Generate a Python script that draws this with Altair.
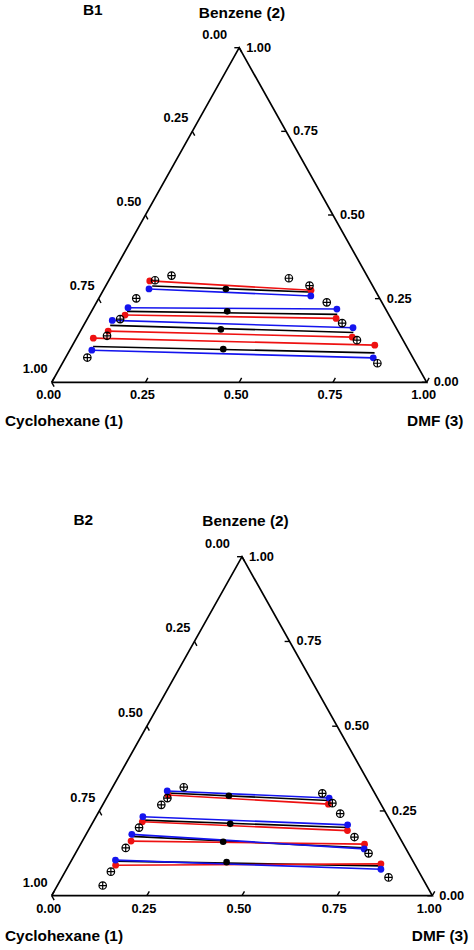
import altair as alt
import pandas as pd

# ---------------- B1 (mole fractions: benzene x2, DMF x3) ----------------
B1_BINODAL_BENZENE = [0.319, 0.305, 0.251, 0.189, 0.139, 0.074, 0.311, 0.289, 0.239, 0.177, 0.126, 0.057]
B1_BINODAL_DMF = [0.160, 0.123, 0.100, 0.088, 0.078, 0.058, 0.477, 0.543, 0.614, 0.686, 0.751, 0.840]

B1_EXP_RAF_BENZENE = [0.288, 0.212, 0.170, 0.107]
B1_EXP_RAF_DMF = [0.124, 0.095, 0.071, 0.057]
B1_EXP_EXT_BENZENE = [0.270, 0.203, 0.149, 0.088]
B1_EXP_EXT_DMF = [0.551, 0.660, 0.730, 0.817]

B1_NRTL_RAF_BENZENE = [0.303, 0.201, 0.153, 0.132]
B1_NRTL_RAF_DMF = [0.110, 0.095, 0.074, 0.045]
B1_NRTL_EXT_BENZENE = [0.275, 0.191, 0.135, 0.111]
B1_NRTL_EXT_DMF = [0.554, 0.663, 0.734, 0.806]

B1_UNIQ_RAF_BENZENE = [0.279, 0.223, 0.185, 0.096]
B1_UNIQ_RAF_DMF = [0.120, 0.092, 0.069, 0.059]
B1_UNIQ_EXT_BENZENE = [0.258, 0.219, 0.163, 0.073]
B1_UNIQ_EXT_DMF = [0.562, 0.651, 0.722, 0.821]

B1_FEED_BENZENE = [0.279, 0.212, 0.158, 0.099]
B1_FEED_DMF = [0.325, 0.362, 0.372, 0.408]

# ---------------- B2 ----------------
B2_BINODAL_BENZENE = [0.320, 0.288, 0.268, 0.201, 0.141, 0.071, 0.030, 0.302, 0.273, 0.242, 0.173, 0.125, 0.054]
B2_BINODAL_DMF = [0.187, 0.160, 0.154, 0.129, 0.124, 0.120, 0.119, 0.560, 0.601, 0.637, 0.709, 0.770, 0.858]

B2_EXP_RAF_BENZENE = [0.303, 0.223, 0.175, 0.102]
B2_EXP_RAF_DMF = [0.153, 0.127, 0.122, 0.116]
B2_EXP_EXT_BENZENE = [0.281, 0.201, 0.141, 0.088]
B2_EXP_EXT_DMF = [0.587, 0.677, 0.750, 0.821]

B2_NRTL_RAF_BENZENE = [0.297, 0.218, 0.161, 0.090]
B2_NRTL_RAF_DMF = [0.157, 0.129, 0.128, 0.123]
B2_NRTL_EXT_BENZENE = [0.270, 0.192, 0.152, 0.094]
B2_NRTL_EXT_DMF = [0.592, 0.681, 0.746, 0.818]

B2_UNIQ_RAF_BENZENE = [0.309, 0.233, 0.181, 0.105]
B2_UNIQ_RAF_DMF = [0.149, 0.123, 0.120, 0.115]
B2_UNIQ_EXT_BENZENE = [0.288, 0.209, 0.138, 0.078]
B2_UNIQ_EXT_DMF = [0.585, 0.673, 0.752, 0.826]

B2_FEED_BENZENE = [0.295, 0.212, 0.159, 0.099]
B2_FEED_DMF = [0.318, 0.363, 0.371, 0.410]

# ---------------- axes ----------------
TICK_VALUES = [0.0, 0.25, 0.5, 0.75, 1.0]
TICK_TEXT = ["0.00", "0.25", "0.50", "0.75", "1.00"]
VERTEX_BENZENE = [0.0, 0.0, 1.0, 0.0]
VERTEX_DMF = [0.0, 1.0, 0.0, 0.0]

RED = "#ee1111"
BLUE = "#1414ee"
FONT = "Liberation Sans"
TICK_LEN = 0.013
CROSS_CIRCLE = "M-1,0A1,1,0,1,1,1,0A1,1,0,1,1,-1,0ZM-1,0L1,0M0,-1L0,1"


def proj(benz, dmf):
    return [d + 0.5 * b for b, d in zip(benz, dmf)], list(benz)


def pts_df(benz, dmf):
    x, y = proj(benz, dmf)
    return pd.DataFrame({"X": x, "Y": y})


def tie_df(rb, rd, eb, ed):
    x1, y1 = proj(rb, rd)
    x2, y2 = proj(eb, ed)
    return pd.DataFrame({"X": x1, "Y": y1, "X2": x2, "Y2": y2})


def panel(label, binodal, exp, nrtl, uniq, feed, xdom, ydom, tpos):
    xs = alt.Scale(domain=xdom, nice=False, zero=False)
    ys = alt.Scale(domain=ydom, nice=False, zero=False)
    X = alt.X("X:Q", scale=xs, axis=None)
    Y = alt.Y("Y:Q", scale=ys, axis=None)

    ox, oy = proj(VERTEX_BENZENE, VERTEX_DMF)
    outline = alt.Chart(pd.DataFrame({"X": ox, "Y": oy, "o": list(range(4))})).mark_line(
        color="black", strokeWidth=1.7, strokeJoin="miter"
    ).encode(x=X, y=Y, order="o:Q")

    rows = []
    for v in TICK_VALUES:
        bx, by = proj([0.0], [v])
        rows.append((bx[0], by[0], bx[0] + 0.5 * TICK_LEN, by[0] + TICK_LEN))
        rx, ry = proj([v], [1 - v])
        rows.append((rx[0], ry[0], rx[0] - TICK_LEN, ry[0]))
        lx, ly = proj([1 - v], [0.0])
        rows.append((lx[0], ly[0], lx[0] + 0.5 * TICK_LEN, ly[0] - TICK_LEN))
    ticks = alt.Chart(pd.DataFrame(rows, columns=["X", "Y", "X2", "Y2"])).mark_rule(
        color="black", strokeWidth=1.4
    ).encode(x=X, y=Y, x2="X2:Q", y2="Y2:Q")

    tstyle = dict(font=FONT, fontWeight="bold", fontSize=12.8, color="black", baseline="middle")
    bx, by = proj([0.0] * 5, TICK_VALUES)
    bottom_lab = alt.Chart(pd.DataFrame({"X": bx, "Y": by, "t": TICK_TEXT})).mark_text(
        align="center", dx=-3, dy=13, **tstyle
    ).encode(x=X, y=Y, text="t:N")
    rx, ry = proj(TICK_VALUES, [1 - v for v in TICK_VALUES])
    right_lab = alt.Chart(pd.DataFrame({"X": rx, "Y": ry, "t": TICK_TEXT})).mark_text(
        align="left", dx=7, dy=0, **tstyle
    ).encode(x=X, y=Y, text="t:N")
    lx, ly = proj([1 - v for v in TICK_VALUES], [0.0] * 5)
    left_df = pd.DataFrame({"X": lx, "Y": ly, "t": TICK_TEXT})
    left_lab = alt.Chart(left_df.iloc[1:].reset_index(drop=True)).mark_text(
        align="right", dx=-4, dy=-13, **tstyle
    ).encode(x=X, y=Y, text="t:N")
    apex_lab = alt.Chart(left_df.iloc[:1].reset_index(drop=True)).mark_text(
        align="right", dx=-12, dy=-13, **tstyle
    ).encode(x=X, y=Y, text="t:N")

    def lines(df, color):
        return alt.Chart(df).mark_rule(color=color, strokeWidth=1.6).encode(
            x=X, y=Y, x2="X2:Q", y2="Y2:Q"
        )

    def ends(df, color):
        d = pd.concat(
            [df[["X", "Y"]], df[["X2", "Y2"]].rename(columns={"X2": "X", "Y2": "Y"})],
            ignore_index=True,
        )
        return alt.Chart(d).mark_circle(color=color, size=46, opacity=1).encode(x=X, y=Y)

    exp_l = lines(exp, "black")
    nrtl_l = lines(nrtl, RED)
    uniq_l = lines(uniq, BLUE)
    nrtl_p = ends(nrtl, RED)
    uniq_p = ends(uniq, BLUE)
    feed_p = alt.Chart(feed).mark_circle(color="black", size=44, opacity=1).encode(x=X, y=Y)
    bino = alt.Chart(binodal).mark_point(
        shape=CROSS_CIRCLE, filled=False, color="black", size=56, strokeWidth=1.2, opacity=1
    ).encode(x=X, y=Y)

    hstyle = dict(font=FONT, fontWeight="bold", fontSize=15.4, color="black", baseline="middle")
    ttl = pd.DataFrame(tpos)

    def title_layer(align):
        return alt.Chart(ttl[ttl["a"] == align].reset_index(drop=True)).mark_text(
            align=align, **hstyle
        ).encode(x=alt.X("px:Q", scale=None), y=alt.Y("py:Q", scale=None), text="t:N")

    return alt.layer(
        outline, ticks, bottom_lab, right_lab, left_lab, apex_lab,
        exp_l, nrtl_l, uniq_l, nrtl_p, uniq_p, feed_p, bino,
        title_layer("left"), title_layer("center"), title_layer("right"),
    ).properties(width=474, height=475)


top = panel(
    "B1",
    pts_df(B1_BINODAL_BENZENE, B1_BINODAL_DMF),
    tie_df(B1_EXP_RAF_BENZENE, B1_EXP_RAF_DMF, B1_EXP_EXT_BENZENE, B1_EXP_EXT_DMF),
    tie_df(B1_NRTL_RAF_BENZENE, B1_NRTL_RAF_DMF, B1_NRTL_EXT_BENZENE, B1_NRTL_EXT_DMF),
    tie_df(B1_UNIQ_RAF_BENZENE, B1_UNIQ_RAF_DMF, B1_UNIQ_EXT_BENZENE, B1_UNIQ_EXT_DMF),
    pts_df(B1_FEED_BENZENE, B1_FEED_DMF),
    [-51.7 / 375.0, 422.3 / 375.0],
    [(382.3 - 475.0) / 334.6, 382.3 / 334.6],
    {"t": ["B1", "Cyclohexane (1)", "Benzene (2)", "DMF (3)"],
     "px": [83, 5, 242, 463.5], "py": [10, 421, 12.5, 421],
     "a": ["left", "left", "center", "right"]},
)

bottom = panel(
    "B2",
    pts_df(B2_BINODAL_BENZENE, B2_BINODAL_DMF),
    tie_df(B2_EXP_RAF_BENZENE, B2_EXP_RAF_DMF, B2_EXP_EXT_BENZENE, B2_EXP_EXT_DMF),
    tie_df(B2_NRTL_RAF_BENZENE, B2_NRTL_RAF_DMF, B2_NRTL_EXT_BENZENE, B2_NRTL_EXT_DMF),
    tie_df(B2_UNIQ_RAF_BENZENE, B2_UNIQ_RAF_DMF, B2_UNIQ_EXT_BENZENE, B2_UNIQ_EXT_DMF),
    pts_df(B2_FEED_BENZENE, B2_FEED_DMF),
    [-51.7 / 380.6, 422.3 / 380.6],
    [(420.7 - 475.0) / 339.0, 420.7 / 339.0],
    {"t": ["B2", "Cyclohexane (1)", "Benzene (2)", "DMF (3)"],
     "px": [73.5, 5, 245.5, 468.3], "py": [45, 461, 45.5, 461],
     "a": ["left", "left", "center", "right"]},
)

chart = alt.vconcat(top, bottom, spacing=0, bounds="flush").properties(
    padding=0
).configure_view(stroke=None)

chart.save("out.html", embed_options={"renderer": "svg", "actions": False})
